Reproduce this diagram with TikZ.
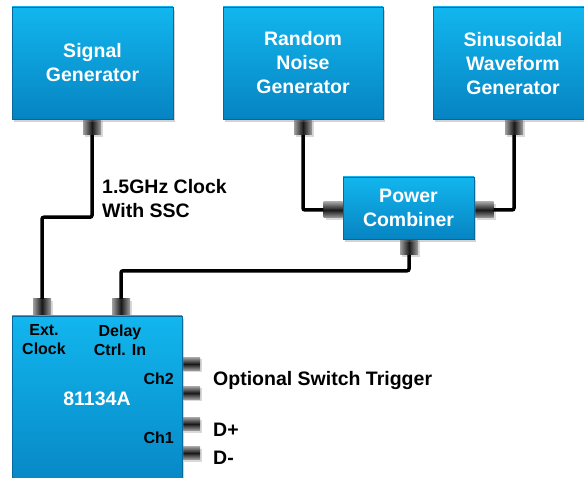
\documentclass[tikz,border=0pt]{standalone}
\usepackage{fontspec}
\setmainfont{Liberation Sans}
\usetikzlibrary{shadows}
\definecolor{boxtop}{HTML}{12B6EE}
\definecolor{boxbot}{HTML}{0684C2}
\tikzset{
  blk/.style={rectangle, draw=boxbot!80!black, line width=0.4pt, top color=boxtop, bottom color=boxbot,
    drop shadow={shadow xshift=2pt, shadow yshift=-3pt, opacity=0.35},
    font=\bfseries\fontsize{19.5}{24}\selectfont, text=white, align=center, inner sep=0pt},
  vport/.style={rectangle, minimum width=18pt, minimum height=16pt, inner sep=0pt,
    left color=gray!75, right color=gray!75, middle color=black!90,
    drop shadow={shadow xshift=2pt, shadow yshift=-2pt, opacity=0.3}},
  hport/.style={rectangle, minimum width=19pt, minimum height=16pt, inner sep=0pt,
    top color=gray!75, bottom color=gray!75, middle color=black!90,
    drop shadow={shadow xshift=2pt, shadow yshift=-2pt, opacity=0.3}},
  wire/.style={line width=3.5pt, black, rounded corners=2pt},
  lbl/.style={font=\bfseries\fontsize{19.5}{24}\selectfont, text=black, inner sep=0pt, align=left},
  small/.style={font=\bfseries\fontsize{16}{19}\selectfont, text=black, inner sep=0pt, align=center},
  wlbl/.style={font=\bfseries\fontsize{19.5}{24}\selectfont, text=white, inner sep=0pt, align=center},
}
\begin{document}
\begin{tikzpicture}[x=1pt,y=-1pt]
\useasboundingbox (0,0) rectangle (584,478);
\clip (0,0) rectangle (584,478);
% ports (drawn first so boxes overlap their inner ends)
\node[vport] (sgp) at (92,127) {};
\node[vport] (rnp) at (303,127) {};
\node[vport] (swp) at (514,127) {};
\node[hport] (pcl) at (333,210) {};
\node[hport] (pcr) at (484,210) {};
\node[vport] (pcb) at (409,247) {};
\node[vport] (ecp) at (42,307) {};
\node[vport] (dcp) at (121,307) {};
\node[hport, minimum width=18pt, minimum height=13pt] (o1) at (191,364) {};
\node[hport, minimum width=18pt, minimum height=13pt] (o2) at (191,393) {};
\node[hport, minimum width=18pt, minimum height=13pt] (dp) at (191,424) {};
\node[hport, minimum width=18pt, minimum height=13pt] (dm) at (191,453) {};
% boxes
\node[blk, minimum width=161pt, minimum height=112pt] (sg) at (92.5,63) {Signal\\Generator};
\node[blk, minimum width=160pt, minimum height=112pt] (rn) at (303,63) {Random\\Noise\\Generator};
\node[blk, minimum width=160pt, minimum height=112pt] (sw) at (513,63) {};
\node[wlbl] (swt) at (513,64) {Sinusoidal\\Waveform\\Generator};
\node[blk, minimum width=131pt, minimum height=62pt] (pc) at (408.5,208) {Power\\Combiner};
\node[blk, minimum width=170pt, minimum height=180pt] (dev) at (97,406) {};
% device labels
\node[small] (ect) at (44,340) {Ext.\\Clock};
\node[small] (dct) at (120,340) {Delay\\Ctrl. In};
\node[small, anchor=east] (ch2) at (174,379) {Ch2};
\node[small, anchor=east] (ch1) at (174,438) {Ch1};
\node[wlbl] (mdl) at (97,399) {81134A};
% wires
\draw[wire] (sgp.south) -- ++(0,82) -| (ecp.north);
\draw[wire] (dcp.north) -- ++(0,-28) -| (pcb.south);
\draw[wire] (rnp.south) |- (pcl.west);
\draw[wire] (swp.south) |- (pcr.east);
% outside labels
\node[lbl, anchor=west] (clk) at (102,199) {1.5GHz Clock\\With SSC};
\node[lbl, anchor=west] (ost) at (213,381) {Optional Switch Trigger};
\node[lbl, anchor=west] (dpl) at (213,430) {D+};
\node[lbl, anchor=west] (dml) at (213,458) {D-};
\end{tikzpicture}
\end{document}
